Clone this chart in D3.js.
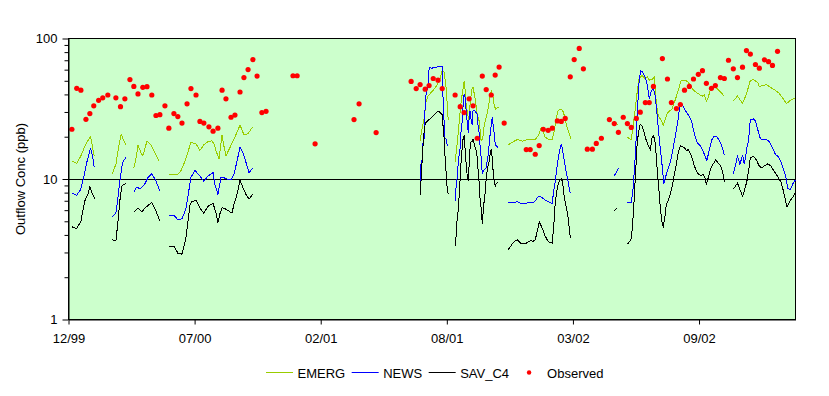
<!DOCTYPE html>
<html>
<head>
<meta charset="utf-8">
<script src="https://cdnjs.cloudflare.com/ajax/libs/d3/7.8.5/d3.min.js"></script>
<style>
  body { margin: 0; background: #fff; }
  svg text { font-family: Arial, "Liberation Sans", sans-serif; font-size: 13px; fill: #000; }
</style>
</head>
<body>
<div id="chart"></div>
<script>
// Times are decimal years, values in ppb. A null marks a gap in the model run.
var emerg = [
  [2000.012,13.4],[2000.033,12.9],[2000.051,14.6],[2000.073,17.8],[2000.093,20.1],[2000.109,14.5],null,
  [2000.186,10.8],[2000.203,12.7],[2000.217,17.6],[2000.226,20.8],[2000.235,19.2],[2000.246,17.4],null,
  [2000.281,12.0],[2000.290,13.9],[2000.299,17.4],[2000.312,15.4],[2000.320,14.6],[2000.338,18.6],[2000.355,17.5],[2000.372,15.4],[2000.391,13.3],null,
  [2000.433,10.7],[2000.468,10.7],[2000.485,11.4],[2000.503,13.4],[2000.529,18.2],[2000.551,17.8],[2000.568,16.0],[2000.585,17.5],[2000.603,18.5],[2000.620,18.7],
  [2000.629,17.8],[2000.638,15.8],[2000.651,13.9],[2000.664,20.6],[2000.672,17.2],[2000.681,14.6],[2000.698,16.7],[2000.716,19.2],[2000.742,24.2],[2000.759,20.6],
  [2000.777,21.0],[2000.797,23.5],null,
  [2001.524,18.6],[2001.533,23.2],[2001.542,27.4],[2001.550,35.5],[2001.559,39.2],[2001.576,41.9],[2001.594,45.7],[2001.611,52.0],[2001.620,59.7],[2001.628,57.8],
  [2001.637,44.7],[2001.646,26.5],null,
  [2001.676,13.2],[2001.685,17.9],[2001.694,25.7],[2001.702,35.5],[2001.711,44.7],[2001.715,49.9],[2001.720,42.0],[2001.724,33.3],[2001.731,28.8],[2001.735,26.0],
  [2001.741,34.4],[2001.750,44.7],[2001.754,44.7],[2001.759,40.5],[2001.765,35.5],[2001.772,28.8],[2001.781,25.7],[2001.789,18.6],[2001.796,19.5],[2001.802,24.0],
  [2001.811,27.4],[2001.820,32.1],[2001.828,38.8],[2001.833,42.8],[2001.839,39.8],[2001.846,33.3],[2001.852,31.5],[2001.859,32.0],[2001.865,32.4],null,
  [2001.907,17.5],[2001.928,18.4],[2001.946,19.1],[2001.967,18.6],[2001.994,19.1],[2002.024,19.2],[2002.037,20.3],[2002.050,23.3],[2002.059,21.6],[2002.067,19.8],
  [2002.085,19.1],[2002.098,19.2],[2002.107,22.0],[2002.115,27.4],[2002.124,30.8],[2002.137,31.3],[2002.146,30.1],[2002.154,26.6],[2002.162,23.3],[2002.172,20.8],
  [2002.180,19.2],null,
  [2002.367,25.9],[2002.385,24.0],null,
  [2002.424,19.8],[2002.441,19.1],[2002.449,23.8],[2002.458,31.2],[2002.466,40.9],[2002.475,52.2],[2002.488,54.7],[2002.498,52.2],[2002.511,53.5],[2002.519,50.6],
  [2002.532,51.3],[2002.541,53.3],[2002.545,44.7],[2002.550,34.0],[2002.559,28.0],[2002.572,25.9],[2002.580,24.1],[2002.589,26.6],[2002.598,29.6],[2002.611,30.8],
  [2002.619,31.8],[2002.637,38.8],[2002.649,45.1],[2002.658,50.6],[2002.672,50.6],[2002.684,49.5],[2002.697,46.8],[2002.706,43.8],[2002.724,41.2],[2002.741,39.6],
  [2002.750,38.9],[2002.758,39.6],[2002.767,35.9],[2002.775,38.0],[2002.785,43.8],[2002.798,45.0],[2002.811,44.5],[2002.824,42.4],[2002.837,40.2],[2002.845,38.7],null,
  [2002.884,35.9],[2002.902,38.9],[2002.924,34.6],[2002.941,40.2],[2002.958,50.4],[2002.971,50.9],[2002.989,48.9],[2002.997,45.6],[2003.011,46.3],[2003.028,46.8],
  [2003.045,45.0],[2003.063,43.1],[2003.080,41.2],[2003.097,38.0],[2003.115,34.4],[2003.132,36.3],[2003.150,37.5]
];

var news = [
  [2000.012,7.95],[2000.032,7.64],[2000.050,8.39],[2000.061,9.9],[2000.076,13.0],[2000.093,16.6],[2000.102,14.5],[2000.109,12.1],null,
  [2000.186,5.36],[2000.203,5.75],[2000.212,7.36],[2000.220,9.67],[2000.232,13.1],[2000.246,14.2],null,
  [2000.281,8.12],[2000.294,8.77],[2000.307,8.5],[2000.325,9.0],[2000.342,10.2],[2000.359,10.9],[2000.377,9.7],[2000.394,8.2],null,
  [2000.433,5.54],[2000.455,5.54],[2000.472,5.13],[2000.490,5.2],[2000.507,6.1],[2000.529,10.3],[2000.546,11.5],[2000.564,10.7],[2000.585,9.6],[2000.603,10.5],
  [2000.625,11.1],[2000.633,9.15],[2000.646,7.77],[2000.659,10.2],[2000.672,10.2],[2000.690,9.93],[2000.703,9.93],[2000.716,10.8],[2000.729,13.4],[2000.742,16.9],
  [2000.755,15.4],[2000.768,13.1],[2000.781,11.1],[2000.797,11.9],null,
  [2001.524,7.77],[2001.527,12.7],[2001.533,13.9],[2001.536,17.7],[2001.542,19.7],[2001.546,34.0],[2001.550,40.0],[2001.553,42.3],[2001.559,47.2],[2001.563,61.4],
  [2001.568,62.1],[2001.576,61.4],[2001.585,62.5],[2001.594,62.1],[2001.602,63.3],[2001.620,63.3],[2001.623,40.0],[2001.628,25.9],[2001.632,19.7],[2001.637,19.1],
  [2001.643,17.1],null,
  [2001.676,7.0],[2001.681,9.16],[2001.685,10.2],[2001.689,12.7],[2001.694,15.0],[2001.698,16.7],[2001.702,22.0],[2001.707,25.9],[2001.711,34.0],[2001.715,40.1],
  [2001.720,37.9],[2001.724,30.5],[2001.728,25.9],[2001.733,21.4],[2001.737,27.4],[2001.741,30.5],[2001.746,25.9],[2001.750,24.4],[2001.754,31.0],[2001.763,30.5],
  [2001.772,28.7],[2001.775,24.4],[2001.781,20.8],[2001.785,16.7],[2001.789,14.2],[2001.794,10.9],[2001.798,11.4],[2001.802,11.7],[2001.811,12.0],[2001.815,13.4],
  [2001.820,15.0],[2001.824,17.7],[2001.828,20.8],[2001.833,24.1],[2001.837,27.4],[2001.841,24.4],[2001.846,20.8],[2001.850,17.7],[2001.854,17.3],[2001.863,16.6],null,
  [2001.907,6.78],[2001.928,6.78],[2001.946,6.89],[2001.967,6.66],[2001.994,6.78],[2002.015,6.78],[2002.024,6.97],[2002.033,7.36],[2002.041,7.57],[2002.050,7.45],
  [2002.063,7.16],[2002.076,6.97],[2002.089,6.78],[2002.098,6.66],[2002.102,7.77],[2002.111,9.68],[2002.120,12.7],[2002.128,15.4],[2002.137,17.7],[2002.141,16.7],
  [2002.150,13.4],[2002.159,11.1],[2002.167,9.5],[2002.176,7.9],null,
  [2002.367,10.5],[2002.385,11.9],null,
  [2002.424,6.75],[2002.441,6.75],[2002.449,8.67],[2002.456,12.6],[2002.463,20.6],[2002.469,33.8],[2002.475,49.4],[2002.482,59.2],[2002.491,57.4],[2002.502,52.7],
  [2002.511,46.1],[2002.519,37.3],[2002.528,42.5],[2002.537,44.7],[2002.545,38.6],[2002.554,27.4],[2002.565,17.6],[2002.576,12.0],[2002.582,9.26],[2002.589,10.2],
  [2002.598,11.5],[2002.611,13.3],[2002.621,15.9],[2002.632,20.2],[2002.643,25.7],[2002.652,33.8],[2002.661,34.4],[2002.672,31.6],[2002.682,29.6],[2002.693,27.8],
  [2002.702,25.9],[2002.711,22.5],[2002.719,19.7],[2002.728,18.1],[2002.741,17.2],[2002.750,16.2],[2002.758,15.0],[2002.769,13.5],[2002.780,16.2],[2002.791,19.1],
  [2002.802,20.2],[2002.811,20.2],[2002.819,19.3],[2002.830,17.8],[2002.839,16.2],[2002.845,14.7],null,
  [2002.884,10.8],[2002.902,14.5],[2002.913,12.7],[2002.924,14.9],[2002.932,12.7],[2002.943,16.7],[2002.950,18.8],[2002.958,26.5],[2002.971,26.8],[2002.980,25.8],
  [2002.989,22.8],[2003.000,19.7],[2003.006,19.2],[2003.019,19.1],[2003.034,18.9],[2003.045,17.9],[2003.056,16.5],[2003.067,14.9],[2003.080,14.4],[2003.091,13.2],
  [2003.100,12.0],[2003.110,10.7],[2003.121,8.53],[2003.132,8.39],[2003.143,9.26],[2003.154,9.89]
];

var savC4 = [
  [2000.012,4.57],[2000.033,4.44],[2000.051,5.0],[2000.068,6.97],[2000.081,7.77],[2000.090,8.77],[2000.099,7.97],[2000.112,7.25],null,
  [2000.186,3.69],[2000.203,3.63],[2000.212,4.95],[2000.220,6.97],[2000.229,8.9],[2000.238,9.15],[2000.246,9.25],null,
  [2000.281,5.8],[2000.299,6.2],[2000.316,5.85],[2000.333,6.3],[2000.359,6.8],[2000.377,5.9],[2000.394,5.05],null,
  [2000.433,3.33],[2000.455,3.33],[2000.472,2.97],[2000.490,2.92],[2000.507,3.79],[2000.525,6.56],[2000.533,6.88],[2000.551,7.04],[2000.568,6.2],[2000.585,5.7],
  [2000.603,6.4],[2000.625,6.7],[2000.638,5.7],[2000.646,4.9],[2000.655,5.67],[2000.664,6.25],[2000.681,6.1],[2000.698,5.85],[2000.707,5.73],[2000.716,6.6],
  [2000.729,7.77],[2000.742,9.8],[2000.755,8.67],[2000.768,7.77],[2000.781,7.2],[2000.797,7.77],null,
  [2001.524,7.68],[2001.527,9.15],[2001.532,12.7],[2001.536,16.6],[2001.540,20.8],[2001.546,24.5],[2001.550,25.3],[2001.559,26.2],[2001.568,26.9],[2001.576,27.6],
  [2001.585,28.6],[2001.594,29.7],[2001.602,30.5],[2001.611,29.7],[2001.620,28.6],[2001.623,24.5],[2001.628,19.7],[2001.632,14.6],[2001.637,11.1],[2001.640,9.15],
  [2001.646,7.8],null,
  [2001.676,3.33],[2001.681,4.03],[2001.685,5.30],[2001.689,5.91],[2001.694,7.77],[2001.698,10.2],[2001.702,13.4],[2001.707,16.7],[2001.711,19.7],[2001.715,20.3],
  [2001.720,15.9],[2001.724,12.7],[2001.728,10.8],[2001.733,9.68],[2001.737,12.7],[2001.741,16.7],[2001.746,18.6],[2001.750,18.4],[2001.754,19.3],[2001.759,17.7],
  [2001.763,16.7],[2001.768,15.9],[2001.772,14.2],[2001.775,12.0],[2001.781,9.16],[2001.785,6.93],[2001.789,6.28],[2001.794,4.8],[2001.798,5.91],[2001.802,6.93],
  [2001.807,8.1],[2001.811,10.2],[2001.815,11.4],[2001.820,12.7],[2001.824,13.4],[2001.828,15.0],[2001.833,16.3],[2001.837,14.2],[2001.841,11.4],[2001.846,9.68],
  [2001.850,8.9],[2001.854,9.3],[2001.863,9.5],null,
  [2001.907,3.14],[2001.928,3.53],[2001.946,3.70],[2001.963,3.47],[2001.985,3.49],[2002.002,3.64],[2002.015,3.61],[2002.024,3.70],[2002.033,4.26],[2002.041,4.95],
  [2002.050,4.64],[2002.059,4.26],[2002.067,3.93],[2002.080,3.59],[2002.098,3.49],[2002.102,4.26],[2002.107,5.30],[2002.111,6.93],[2002.120,8.67],[2002.128,9.68],
  [2002.137,10.1],[2002.141,9.68],[2002.146,8.67],[2002.150,7.36],[2002.159,6.23],[2002.167,5.30],[2002.176,3.81],null,
  [2002.367,5.91],[2002.379,6.2],null,
  [2002.424,3.43],[2002.439,3.69],[2002.445,4.35],[2002.451,6.04],[2002.456,8.67],[2002.461,12.0],[2002.465,16.7],[2002.472,21.4],[2002.480,24.5],[2002.488,23.7],
  [2002.498,21.0],[2002.506,18.8],[2002.515,17.3],[2002.524,16.2],[2002.530,19.5],[2002.537,20.3],[2002.543,19.1],[2002.548,15.6],[2002.554,11.3],[2002.561,8.39],
  [2002.567,6.23],[2002.576,4.66],[2002.580,4.58],[2002.587,5.4],[2002.593,6.55],[2002.602,7.12],[2002.611,7.92],[2002.619,8.96],[2002.628,10.8],[2002.637,12.7],
  [2002.645,15.6],[2002.654,17.2],[2002.663,17.0],[2002.672,16.7],[2002.680,15.9],[2002.689,16.2],[2002.697,15.2],[2002.706,14.0],[2002.714,12.5],[2002.725,11.3],
  [2002.733,10.8],[2002.743,10.6],[2002.752,10.8],[2002.761,10.2],[2002.767,9.1],[2002.775,10.2],[2002.787,12.0],[2002.798,12.9],[2002.808,13.7],[2002.819,12.9],
  [2002.828,12.5],[2002.837,11.3],[2002.845,9.58],null,
  [2002.884,8.45],[2002.902,9.35],[2002.924,7.55],[2002.932,8.25],[2002.943,9.65],[2002.952,11.9],[2002.958,14.2],[2002.971,14.5],[2002.984,13.7],[2002.995,12.5],
  [2003.006,12.0],[2003.019,12.4],[2003.032,12.8],[2003.045,12.5],[2003.058,11.6],[2003.069,10.9],[2003.080,10.2],[2003.091,9.5],[2003.100,8.39],[2003.108,7.36],
  [2003.117,6.33],[2003.126,6.78],[2003.134,7.12],[2003.143,7.45],[2003.154,8.1]
];

var observed = [
  [2000.012,22.6],[2000.033,44.2],[2000.051,42.9],[2000.073,26.6],[2000.090,29.2],[2000.107,33.2],[2000.128,36.3],[2000.146,37.8],[2000.168,39.6],[2000.203,37.8],
  [2000.223,32.7],[2000.242,37.2],[2000.264,51.0],[2000.281,45.6],[2000.299,40.3],[2000.320,44.9],[2000.338,45.4],[2000.359,39.6],[2000.377,28.3],[2000.394,28.7],
  [2000.416,33.2],[2000.433,23.0],[2000.455,29.2],[2000.472,27.8],[2000.490,25.0],[2000.512,34.3],[2000.529,44.0],[2000.551,39.6],[2000.568,25.7],[2000.585,25.0],
  [2000.607,23.5],[2000.625,21.9],[2000.646,23.0],[2000.664,42.9],[2000.681,37.2],[2000.703,27.5],[2000.720,28.5],[2000.742,41.6],[2000.759,52.7],[2000.777,60.1],
  [2000.798,70.8],[2000.816,54.0],[2000.837,29.7],[2000.855,30.3],[2000.972,54.3],[2000.990,54.3],[2001.068,17.8],[2001.237,26.5],[2001.259,34.3],[2001.333,21.4],
  [2001.485,49.5],[2001.507,44.0],[2001.524,47.0],[2001.546,43.6],[2001.563,46.2],[2001.581,51.9],[2001.602,50.5],[2001.620,44.0],[2001.676,39.6],[2001.698,32.7],
  [2001.715,29.7],[2001.737,37.2],[2001.754,33.2],[2001.772,19.5],[2001.794,54.0],[2001.811,43.3],[2001.833,39.6],[2001.850,54.9],[2001.867,62.6],[2001.889,25.0],
  [2001.985,16.2],[2002.002,16.2],[2002.024,15.0],[2002.041,17.3],[2002.059,22.6],[2002.080,22.2],[2002.098,23.0],[2002.120,25.9],[2002.137,25.7],[2002.154,27.0],
  [2002.176,53.4],[2002.193,70.8],[2002.215,85.0],[2002.233,60.8],[2002.250,16.3],[2002.272,16.3],[2002.289,17.9],[2002.311,19.5],[2002.346,26.5],[2002.367,24.8],
  [2002.385,21.5],[2002.406,27.5],[2002.424,24.8],[2002.441,23.3],[2002.463,27.0],[2002.480,29.9],[2002.502,35.0],[2002.519,35.0],[2002.537,45.6],[2002.576,72.0],
  [2002.598,51.5],[2002.615,35.0],[2002.637,31.7],[2002.654,33.9],[2002.672,42.9],[2002.693,45.6],[2002.711,51.5],[2002.732,55.6],[2002.750,59.0],[2002.767,48.0],
  [2002.789,44.2],[2002.806,46.2],[2002.828,52.7],[2002.845,51.9],[2002.863,70.0],[2002.884,60.8],[2002.902,52.7],[2002.924,62.5],[2002.941,82.0],[2002.958,77.5],
  [2002.980,65.3],[2002.997,61.5],[2003.019,70.5],[2003.037,68.4],[2003.054,64.3],[2003.076,81.0]
];

var xStart = "1999-12-31", xEnd = "2003-02-26";
var tickDates = ["1999-12-31", "2000-07-18", "2001-02-03", "2001-08-22", "2002-03-10", "2002-09-26"];
var yMajor = [1, 10, 100];
var yMinor = [2, 3, 4, 5, 6, 7, 8, 9, 20, 30, 40, 50, 60, 70, 80, 90];
var seriesNames = ["EMERG", "NEWS", "SAV_C4", "Observed"];
var seriesColors = ["#99cc00", "#0000ff", "#000000", "#ff0000"];

// decimal year -> Date
function toDate(t) {
  return new Date(Date.UTC(2000, 0, 1) + (t - 2000) * 365.25 * 864e5);
}

var plotLeft = 68.5, plotRight = 795.5, plotTop = 38.5, plotBottom = 319.5;

var svg = d3.select('#chart').append('svg')
    .attr('width', 829)
    .attr('height', 396);

var x = d3.scaleUtc()
    .domain([new Date(xStart), new Date(xEnd)])
    .range([plotLeft, plotRight]);

var y = d3.scaleLog()
    .domain([1, 100])
    .range([plotBottom, plotTop]);

// plot area
svg.append('rect')
    .attr('x', plotLeft).attr('y', plotTop)
    .attr('width', plotRight - plotLeft).attr('height', plotBottom - plotTop)
    .attr('fill', '#ccffcc')
    .attr('stroke', '#000');

// line at 10
svg.append('line')
    .attr('x1', plotLeft).attr('x2', plotRight)
    .attr('y1', Math.round(y(10)) + 0.5).attr('y2', Math.round(y(10)) + 0.5)
    .attr('stroke', '#000');

var line = d3.line()
    .defined(function(d) { return d !== null; })
    .x(function(d) { return x(toDate(d[0])); })
    .y(function(d) { return y(d[1]); });

[emerg, news, savC4].forEach(function(s, i) {
  svg.append('path')
      .datum(s)
      .attr('d', line)
      .attr('fill', 'none')
      .attr('stroke', seriesColors[i])
      .attr('stroke-width', 1)
      .style('shape-rendering', 'crispEdges');
});

svg.append('g').selectAll('circle')
    .data(observed).enter()
    .append('circle')
      .attr('cx', function(d) { return x(toDate(d[0])); })
      .attr('cy', function(d) { return y(d[1]); })
      .attr('r', 2.6)
      .attr('fill', seriesColors[3]);

// axes
svg.append('g')
    .attr('transform', 'translate(' + plotLeft + ',0)')
    .call(d3.axisLeft(y).tickValues(yMajor).tickFormat(d3.format('d'))
        .tickSize(6).tickSizeOuter(0).tickPadding(5));
svg.append('g')
    .attr('transform', 'translate(' + plotLeft + ',0)')
    .call(d3.axisLeft(y).tickValues(yMinor).tickFormat('').tickSize(4).tickSizeOuter(0))
    .select('.domain').remove();

svg.append('g')
    .attr('transform', 'translate(0,' + plotBottom + ')')
    .call(d3.axisBottom(x).tickValues(tickDates.map(function(s) { return new Date(s); }))
        .tickFormat(d3.utcFormat('%m/%y')).tickSize(5).tickSizeOuter(0).tickPadding(9));

svg.selectAll('.tick text')
    .attr('font-family', 'Arial, "Liberation Sans", sans-serif')
    .attr('font-size', 13)
    .attr('fill', '#000');
svg.selectAll('.tick line, .domain').attr('stroke', '#000');

svg.append('text')
    .attr('transform', 'translate(25,179) rotate(-90)')
    .attr('text-anchor', 'middle')
    .text('Outflow Conc (ppb)');

// legend
var lx = 266, ly = 372.5;
seriesNames.forEach(function(name, i) {
  if (i < 3) {
    svg.append('line')
        .attr('x1', lx).attr('x2', lx + 27)
        .attr('y1', ly).attr('y2', ly)
        .attr('stroke', seriesColors[i]);
  } else {
    svg.append('circle')
        .attr('cx', lx + 13.5).attr('cy', ly)
        .attr('r', 2.2)
        .attr('fill', seriesColors[i]);
  }
  var t = svg.append('text')
      .attr('x', lx + 31.5)
      .attr('y', ly + 5)
      .text(name);
  lx = lx + 31.5 + t.node().getComputedTextLength() + 6.5;
});
</script>
</body>
</html>
